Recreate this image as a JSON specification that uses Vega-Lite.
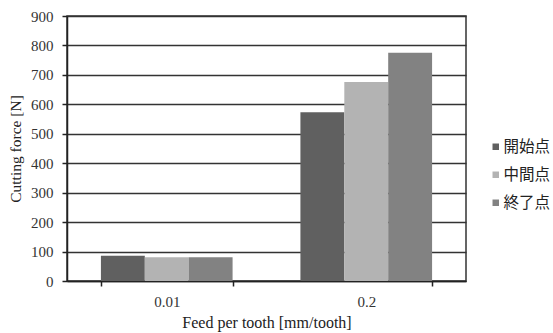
{
  "$schema": "https://vega.github.io/schema/vega-lite/v6.json",
  "width": 399,
  "height": 265,
  "autosize": {"type": "none"},
  "padding": {"left": 67, "top": 16, "right": 87, "bottom": 52},
  "background": "white",
  "config": {
    "view": {"stroke": "#333333", "strokeWidth": 1.5},
    "font": "Liberation Serif"
  },
  "data": {
    "values": [
      {"feed": "0.01", "point": "開始点", "force": 86},
      {"feed": "0.01", "point": "中間点", "force": 81},
      {"feed": "0.01", "point": "終了点", "force": 81},
      {"feed": "0.2", "point": "開始点", "force": 573},
      {"feed": "0.2", "point": "中間点", "force": 676},
      {"feed": "0.2", "point": "終了点", "force": 775}
    ]
  },
  "mark": {"type": "bar"},
  "encoding": {
    "x": {
      "field": "feed",
      "type": "nominal",
      "sort": ["0.01", "0.2"],
      "scale": {"paddingInner": 0.34, "paddingOuter": 0.17},
      "axis": {
        "title": "Feed per tooth [mm/tooth]",
        "titleFont": "Liberation Serif",
        "titleFontSize": 16,
        "titleFontWeight": "normal",
        "titleColor": "#222222",
        "titlePadding": 5,
        "labelFont": "Liberation Serif",
        "labelFontSize": 15,
        "labelColor": "#333333",
        "labelAngle": 0,
        "labelPadding": 8,
        "tickBand": "extent",
        "tickSize": 5,
        "tickColor": "#222222",
        "tickWidth": 1.5,
        "domainColor": "#222222",
        "domainWidth": 1.5
      }
    },
    "xOffset": {"field": "point", "type": "nominal", "sort": ["開始点", "中間点", "終了点"]},
    "y": {
      "field": "force",
      "type": "quantitative",
      "scale": {"domain": [0, 900]},
      "axis": {
        "title": "Cutting force [N]",
        "values": [0, 100, 200, 300, 400, 500, 600, 700, 800, 900],
        "titleFont": "Liberation Serif",
        "titleFontSize": 15.5,
        "titleFontWeight": "normal",
        "titleColor": "#222222",
        "titlePadding": 7,
        "labelFont": "Liberation Serif",
        "labelFontSize": 15,
        "labelColor": "#333333",
        "labelPadding": 9,
        "tickSize": 5,
        "tickColor": "#222222",
        "tickWidth": 1.5,
        "domainColor": "#222222",
        "domainWidth": 1.5,
        "grid": true,
        "gridColor": "#333333",
        "gridWidth": 1.5
      }
    },
    "color": {
      "field": "point",
      "type": "nominal",
      "sort": ["開始点", "中間点", "終了点"],
      "scale": {"range": ["#606060", "#b3b3b3", "#828282"]},
      "legend": {
        "title": null,
        "orient": "none",
        "legendX": 421,
        "legendY": 123,
        "padding": 0,
        "symbolType": "square",
        "symbolSize": 42,
        "symbolStrokeWidth": 0,
        "labelFont": "Noto Sans CJK JP",
        "labelFontSize": 15.5,
        "labelColor": "#222222",
        "labelOffset": 0,
        "rowPadding": 11
      }
    }
  }
}
